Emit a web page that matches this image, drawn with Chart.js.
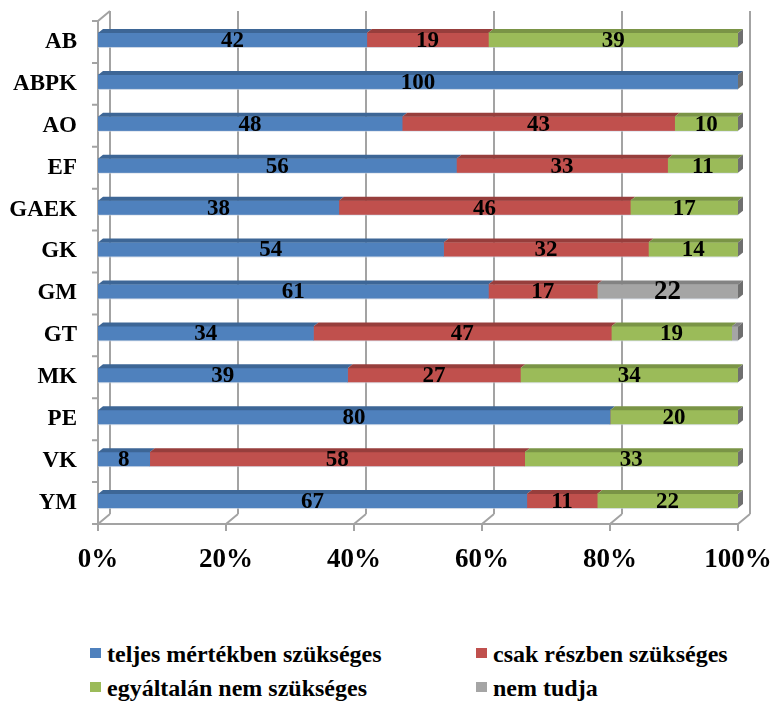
<!DOCTYPE html>
<html>
<head>
<meta charset="utf-8">
<script src="https://cdn.jsdelivr.net/npm/chart.js@4.4.1/dist/chart.umd.min.js"></script>
<style>
  body { margin: 0; background: #fff; width: 772px; height: 702px; position: relative; overflow: hidden; }
  #chart { position: absolute; left: 0; top: 0; }
  .legend { position: absolute; left: 0; top: 0; font-family: "Liberation Serif", "Times New Roman", serif; font-weight: bold; font-size: 24px; color: #000; }
  .legend-item { position: absolute; white-space: nowrap; line-height: 28px; }
  .legend-item span.box { position: absolute; left: 0; top: 8px; width: 11px; height: 10px; }
  .legend-item span.txt { position: absolute; left: 17px; top: 0; }
</style>
</head>
<body>
<canvas id="chart" width="772" height="600"></canvas>
<div class="legend" id="legend"></div>
<script>
const categories = ['AB', 'ABPK', 'AO', 'EF', 'GAEK', 'GK', 'GM', 'GT', 'MK', 'PE', 'VK', 'YM'];
const seriesNames = ['teljes mértékben szükséges', 'csak részben szükséges', 'egyáltalán nem szükséges', 'nem tudja'];
const teljes = [42, 100, 48, 56, 38, 54, 61, 34, 39, 80, 8, 67];
const reszben = [19, 0, 43, 33, 46, 32, 17, 47, 27, 0, 58, 11];
const egyaltalan = [39, 0, 10, 11, 17, 14, 0, 19, 34, 20, 33, 22];
const nemTudja = [0, 0, 0, 0, 0, 0, 22, 1, 0, 0, 0, 0];
const xTicks = [0, 20, 40, 60, 80, 100];
const seriesColors = ['#4F81BD', '#C0504D', '#9BBB59', '#A5A5A5'];
const topColors = ['#3D6696', '#973E3C', '#7A9446', '#838383'];

const rawSeries = [teljes, reszben, egyaltalan, nemTudja];
const rowSums = categories.map((c, i) => rawSeries.reduce((s, arr) => s + arr[i], 0));

const serif = '"Liberation Serif", "Times New Roman", serif';

// 3D walls, gridlines, bar tops and value labels
const chart3d = {
  id: 'chart3d',
  beforeDatasetsDraw(chart) {
    const ctx = chart.ctx;
    const area = chart.chartArea;
    const x = chart.scales.x;
    const dx = 12, dy = -10;
    const bottom = area.bottom;
    ctx.save();
    ctx.strokeStyle = '#a3a3a3';
    ctx.lineWidth = 2;
    ctx.beginPath();
    // back wall gridlines
    xTicks.forEach(t => {
      const px = x.getPixelForValue(t);
      ctx.moveTo(px + dx, area.top + dy);
      ctx.lineTo(px + dx, bottom + dy);
      // floor diagonals
      ctx.moveTo(px, bottom);
      ctx.lineTo(px + dx, bottom + dy);
      // small ticks below the floor edge
      ctx.moveTo(px, bottom);
      ctx.lineTo(px, bottom + 7);
    });
    // front floor edge
    ctx.moveTo(area.left, bottom);
    ctx.lineTo(area.right, bottom);
    // front left axis and its top diagonal
    ctx.moveTo(area.left, bottom);
    ctx.lineTo(area.left, area.top);
    ctx.lineTo(area.left + dx, area.top + dy);
    // category boundary ticks
    const step = (area.bottom - area.top) / categories.length;
    for (let i = 0; i <= categories.length; i++) {
      const py = area.top + i * step;
      ctx.moveTo(area.left - 6, py);
      ctx.lineTo(area.left, py);
    }
    ctx.stroke();
    ctx.restore();

    ctx.save();
    ctx.translate(0, -2);
  },
  afterDatasetsDraw(chart) {
    const ctx = chart.ctx;
    const bx = 5, by = -4;
    const metas = chart.data.datasets.map((d, i) => chart.getDatasetMeta(i));
    categories.forEach((c, row) => {
      let last = null;
      metas.forEach((meta, si) => {
        const el = meta.data[row];
        const v = rawSeries[si][row];
        if (!v) return;
        const top = el.y - el.height / 2;
        const bot = el.y + el.height / 2;
        const left = Math.min(el.base, el.x), right = Math.max(el.base, el.x);
        ctx.fillStyle = topColors[si];
        ctx.beginPath();
        ctx.moveTo(left, top);
        ctx.lineTo(right, top);
        ctx.lineTo(right + bx, top + by);
        ctx.lineTo(left + bx, top + by);
        ctx.closePath();
        ctx.fill();
        // faint light edge under the bar
        ctx.fillStyle = 'rgba(200,210,225,0.6)';
        ctx.fillRect(left, bot, right - left, 1);
        last = el;
      });
      if (last) {
        const top = last.y - last.height / 2;
        const bot = last.y + last.height / 2;
        const r = Math.max(last.base, last.x);
        ctx.fillStyle = '#6f6f6f';
        ctx.beginPath();
        ctx.moveTo(r, top);
        ctx.lineTo(r + bx, top + by);
        ctx.lineTo(r + bx, bot + by);
        ctx.lineTo(r, bot);
        ctx.closePath();
        ctx.fill();
      }
    });

    // value labels
    ctx.fillStyle = '#000';
    ctx.textAlign = 'center';
    ctx.textBaseline = 'middle';
    metas.forEach((meta, si) => {
      meta.data.forEach((el, row) => {
        const v = rawSeries[si][row];
        if (v < 2) return;
        ctx.font = 'bold ' + (si === 3 ? 27 : 23) + 'px ' + serif;
        ctx.fillText(String(v), (el.base + el.x) / 2, el.y + 1);
      });
    });
    ctx.restore();
  }
};

const ctx = document.getElementById('chart').getContext('2d');
new Chart(ctx, {
  type: 'bar',
  data: {
    labels: categories,
    datasets: rawSeries.map((arr, i) => ({
      label: seriesNames[i],
      data: arr.map((v, j) => v / rowSums[j] * 100),
      backgroundColor: seriesColors[i],
      borderWidth: 0,
      barThickness: 14
    }))
  },
  options: {
    indexAxis: 'y',
    responsive: false,
    animation: false,
    devicePixelRatio: 1,
    layout: { padding: { top: 21, right: 34, left: 0, bottom: 0 } },
    plugins: {
      legend: { display: false },
      tooltip: { enabled: false }
    },
    scales: {
      x: {
        stacked: true,
        min: 0,
        max: 100,
        afterBuildTicks: axis => { axis.ticks = xTicks.map(v => ({ value: v })); },
        grid: { display: false, drawTicks: false },
        border: { display: false },
        ticks: {
          padding: 20,
          color: '#000',
          font: { family: serif, weight: 'bold', size: 27 },
          callback: v => v + '%'
        },
        afterFit: axis => { axis.height = 76; axis.paddingLeft = 0; axis.paddingRight = 0; }
      },
      y: {
        stacked: true,
        grid: { display: false, drawTicks: false },
        border: { display: false },
        ticks: {
          padding: 21,
          color: '#000',
          font: { family: serif, weight: 'bold', size: 23 }
        },
        afterFit: axis => { axis.width = 98; axis.paddingTop = 0; axis.paddingBottom = 0; }
      }
    }
  },
  plugins: [chart3d]
});

// legend in two columns
const legend = document.getElementById('legend');
const legendPos = [[90, 640], [476, 640], [90, 674], [476, 674]];
seriesNames.forEach((name, i) => {
  const item = document.createElement('div');
  item.className = 'legend-item';
  item.style.left = legendPos[i][0] + 'px';
  item.style.top = legendPos[i][1] + 'px';
  item.innerHTML = '<span class="box" style="background:' + seriesColors[i] + '"></span><span class="txt"></span>';
  item.querySelector('.txt').textContent = name;
  legend.appendChild(item);
});
</script>
</body>
</html>
